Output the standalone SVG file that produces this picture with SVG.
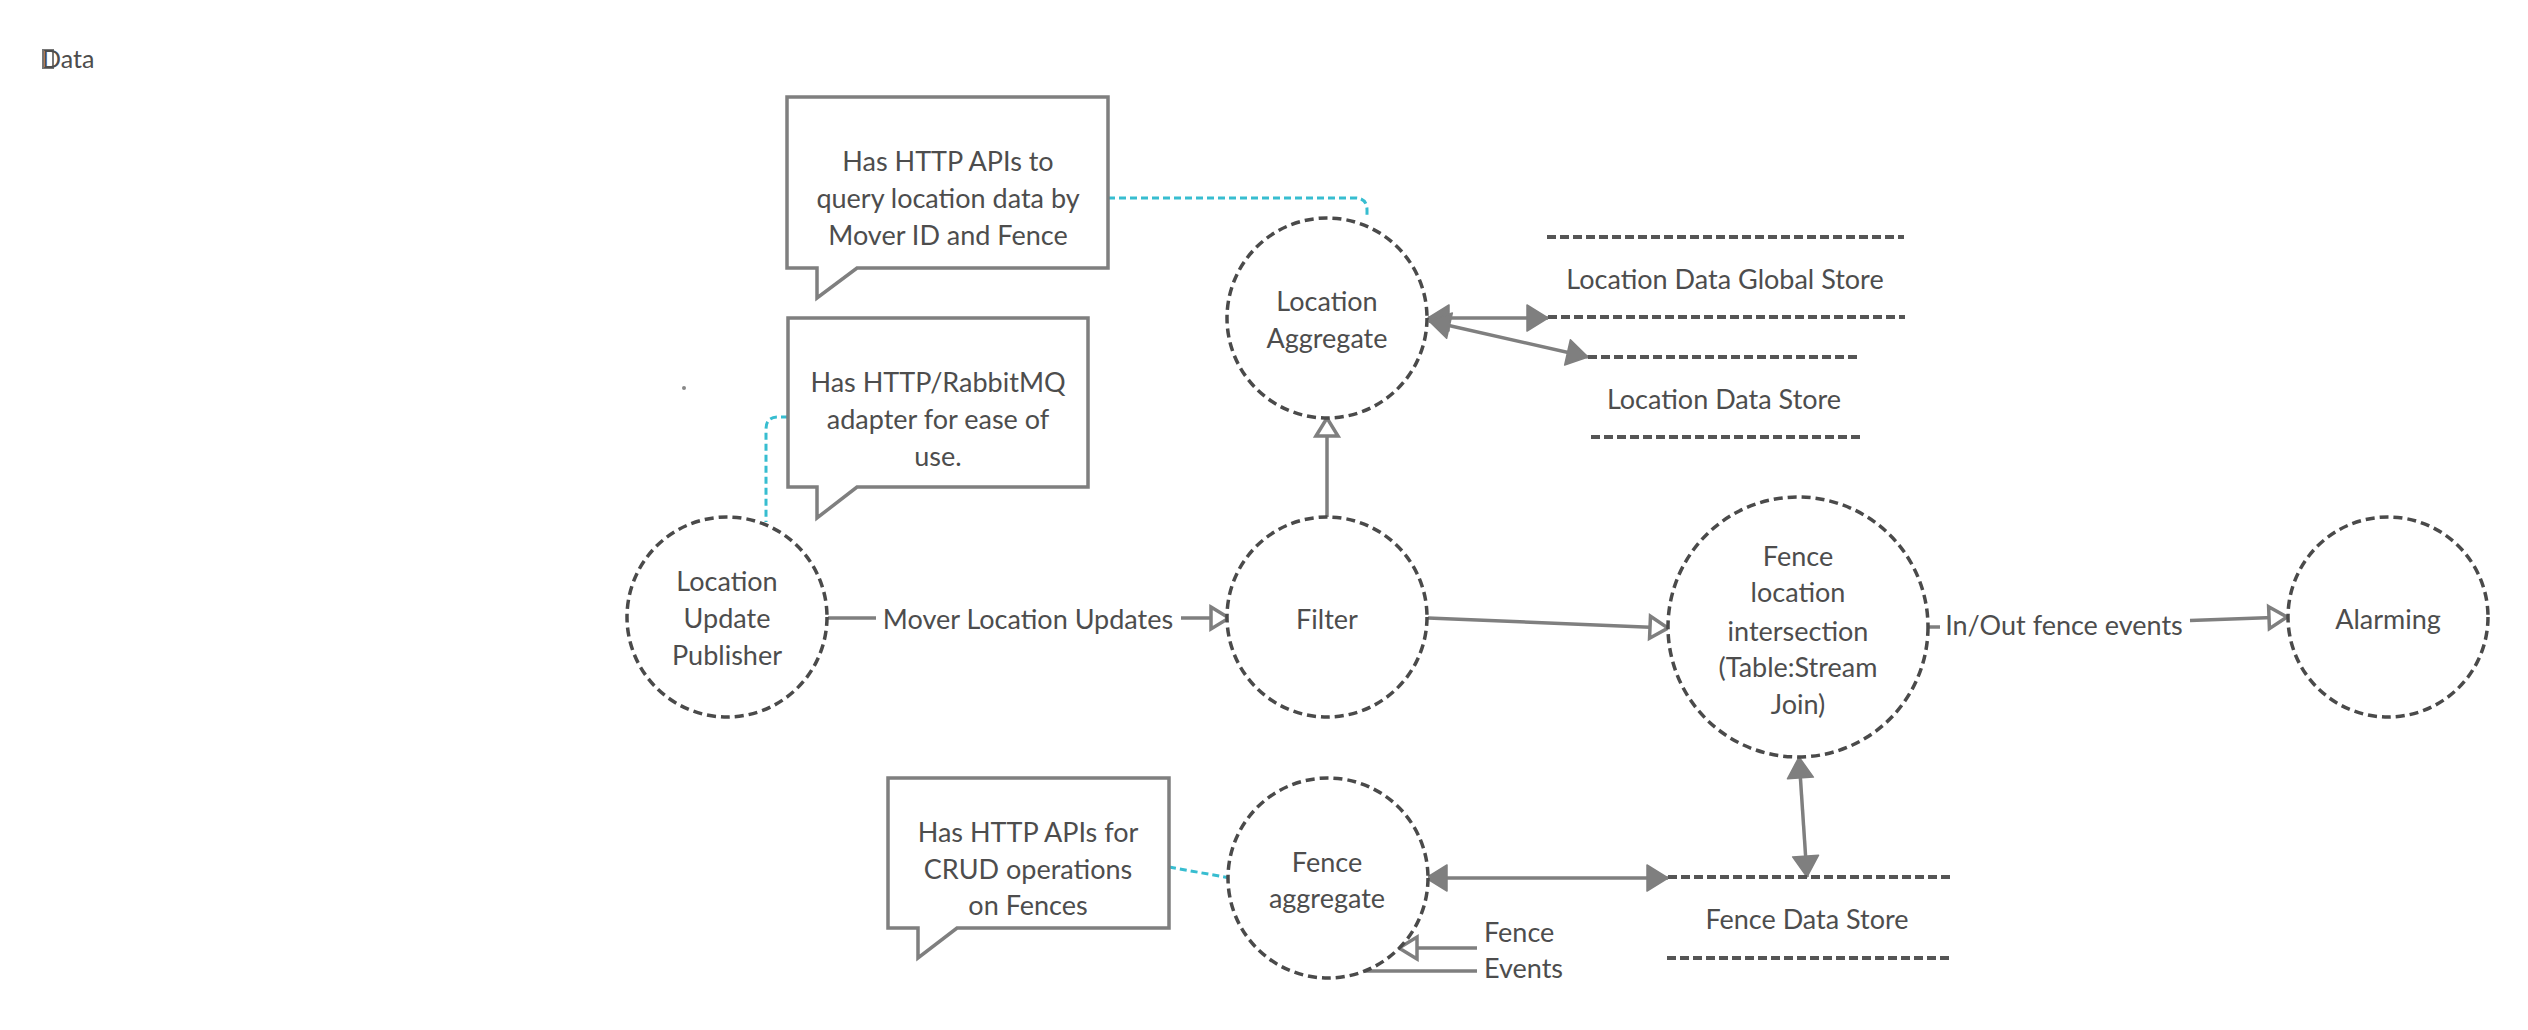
<svg xmlns="http://www.w3.org/2000/svg" width="2528" height="1030" viewBox="0 0 2528 1030">
<style>
text{font-family:Lato,"Open Sans","Liberation Sans",sans-serif;font-size:27px;fill:#4d4d4d}
.c{text-anchor:middle}
.title{font-size:25px}
.proc{fill:#fff;stroke:#4a4a4a;stroke-width:3.5;stroke-dasharray:9 5}
.store{stroke:#555;stroke-width:4;stroke-dasharray:9 4;fill:none}
.callout{fill:#fff;stroke:#7f7f7f;stroke-width:3.5;stroke-linejoin:miter}
.note{fill:none;stroke:#37bdd0;stroke-width:3;stroke-dasharray:7 4}
.flow{fill:none;stroke:#7f7f7f;stroke-width:3.5}
.open{marker-end:url(#openArrow)}
.both{marker-start:url(#fillArrow);marker-end:url(#fillArrow)}
</style>
<defs>
<marker id="openArrow" markerUnits="userSpaceOnUse" markerWidth="26" markerHeight="30" refX="20" refY="13" orient="auto" overflow="visible">
<path d="M2,2 L20,13 L2,24 Z" fill="#fff" stroke="#7f7f7f" stroke-width="3.5" stroke-linejoin="miter"/>
</marker>
<marker id="fillArrow" markerUnits="userSpaceOnUse" markerWidth="26" markerHeight="30" refX="21" refY="13" orient="auto-start-reverse" overflow="visible">
<path d="M0,0 L21,13 L0,26 Z" fill="#7f7f7f" stroke="#7f7f7f" stroke-width="1.5" stroke-linejoin="round"/>
</marker>
</defs>
<rect width="2528" height="1030" fill="#fff"/>

<g id="title">
<rect x="43" y="50" width="10" height="18" fill="none" stroke="#777" stroke-width="2"/>
<text class="title" x="42" y="68">Data</text>
<circle cx="684" cy="388" r="2" fill="#888"/>
</g>

<g id="connectors">
<path class="note" d="M1108,198 H1355 Q1367,198 1367,210 V218"/>
<path class="note" d="M788,417 H778 Q766,417 766,429 V522"/>
<path class="note" d="M1169,867 L1230,878"/>
<path class="flow" d="M828,618 H876"/>
<path class="flow open" d="M1181,618 H1229"/>
<path class="flow open" d="M1327,517 V418"/>
<path class="flow open" d="M1428,618 L1668,628"/>
<path class="flow" d="M1929,627 H1940"/>
<path class="flow open" d="M2190,620.5 L2287,617"/>
<path class="flow both" d="M1428,318 H1548"/>
<path class="flow both" d="M1429,321 L1588,357"/>
<path class="flow both" d="M1426,878 H1668"/>
<path class="flow both" d="M1799,757 L1807,877"/>
<path class="flow open" d="M1477,948 H1399"/>
<path class="flow" d="M1477,971 H1365"/>
</g>

<g id="callout-location-query">
<path class="callout" d="M787,97 H1108 V268 H857 L817,298 V268 H787 Z"/>
<text class="c" x="948" y="171">Has HTTP APIs to</text>
<text class="c" x="948" y="208">query location data by</text>
<text class="c" x="948" y="245">Mover ID and Fence</text>
</g>

<g id="callout-publisher">
<path class="callout" d="M788,318 H1088 V487 H857 L817,518 V487 H788 Z"/>
<text class="c" x="938" y="392">Has HTTP/RabbitMQ</text>
<text class="c" x="938" y="429">adapter for ease of</text>
<text class="c" x="938" y="466">use.</text>
</g>

<g id="callout-fence">
<path class="callout" d="M888,778 H1169 V928 H957 L918,958 V928 H888 Z"/>
<text class="c" x="1028" y="842">Has HTTP APIs for</text>
<text class="c" x="1028" y="879">CRUD operations</text>
<text class="c" x="1028" y="915">on Fences</text>
</g>

<g id="location-aggregate">
<circle class="proc" cx="1327" cy="318" r="100"/>
<text class="c" x="1327" y="311">Location</text>
<text class="c" x="1327" y="348">Aggregate</text>
</g>

<g id="location-update-publisher">
<circle class="proc" cx="727" cy="617" r="100"/>
<text class="c" x="727" y="591">Location</text>
<text class="c" x="727" y="628">Update</text>
<text class="c" x="727" y="665">Publisher</text>
</g>

<g id="label-mover-location-updates">
<text class="c" x="1028" y="629">Mover Location Updates</text>
</g>

<g id="filter">
<circle class="proc" cx="1327" cy="617" r="100"/>
<text class="c" x="1327" y="629">Filter</text>
</g>

<g id="fence-location-intersection">
<circle class="proc" cx="1798" cy="627" r="130"/>
<text class="c" x="1798" y="566">Fence</text>
<text class="c" x="1798" y="602">location</text>
<text class="c" x="1798" y="641">intersection</text>
<text class="c" x="1798" y="677">(Table:Stream</text>
<text class="c" x="1798" y="714">Join)</text>
</g>

<g id="label-inout">
<text class="c" x="2064" y="635">In/Out fence events</text>
</g>

<g id="alarming">
<circle class="proc" cx="2388" cy="617" r="100"/>
<text class="c" x="2388" y="629">Alarming</text>
</g>

<g id="location-data-global-store">
<line class="store" x1="1547" y1="237" x2="1904" y2="237"/>
<text class="c" x="1725" y="289">Location Data Global Store</text>
<line class="store" x1="1548" y1="317" x2="1905" y2="317"/>
</g>

<g id="location-data-store">
<line class="store" x1="1588" y1="357" x2="1859" y2="357"/>
<text class="c" x="1724" y="409">Location Data Store</text>
<line class="store" x1="1591" y1="437" x2="1863" y2="437"/>
</g>

<g id="fence-aggregate">
<circle class="proc" cx="1328" cy="878" r="100"/>
<text class="c" x="1327" y="872">Fence</text>
<text class="c" x="1327" y="908">aggregate</text>
</g>

<g id="fence-events">
<text x="1484" y="942">Fence</text>
<text x="1484" y="978">Events</text>
</g>

<g id="fence-data-store">
<line class="store" x1="1668" y1="877" x2="1950" y2="877"/>
<text class="c" x="1807" y="929">Fence Data Store</text>
<line class="store" x1="1667" y1="958" x2="1950" y2="958"/>
</g>
</svg>
